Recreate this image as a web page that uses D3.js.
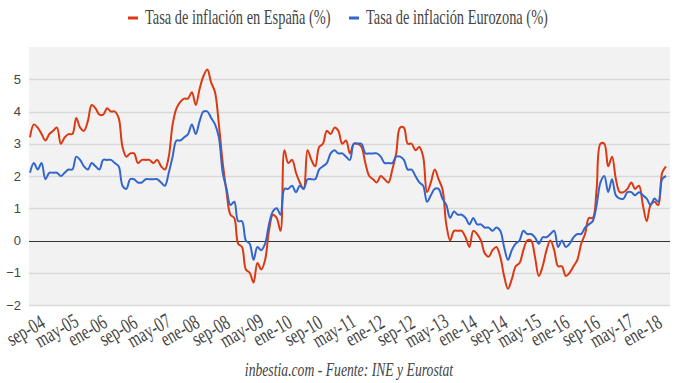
<!DOCTYPE html>
<html>
<head>
<meta charset="utf-8">
<script src="https://cdn.jsdelivr.net/npm/d3@7/dist/d3.min.js"></script>
<style>
  body { margin: 0; background: #fff; }
  .axis text { fill: #444; }
</style>
</head>
<body>
<script>
// Tasa de inflación (%) mensual, sep-2004 a jun-2018
var spain = [
  3.2, 3.6, 3.5, 3.3,
  3.1, 3.3, 3.4, 3.5, 3.0, 3.2, 3.3, 3.3, 3.8, 3.5, 3.4, 3.7,
  4.2, 4.1, 3.9, 3.9, 4.1, 4.0, 4.0, 3.8, 2.9, 2.6, 2.7, 2.7,
  2.4, 2.5, 2.5, 2.5, 2.4, 2.5, 2.3, 2.2, 2.6, 3.6, 4.1, 4.3,
  4.4, 4.4, 4.6, 4.2, 4.7, 5.1, 5.3, 4.9, 4.6, 3.6, 2.4, 1.5,
  0.8, 0.7, -0.1, -0.2, -0.9, -1.0, -1.3, -0.7, -0.9, -0.6, 0.3, 0.8,
  0.7, 0.3, 2.8, 2.4, 2.5, 2.1, 1.8, 1.6, 2.8, 2.5, 2.3, 2.9,
  3.0, 3.4, 3.3, 3.5, 3.4, 3.0, 3.1, 2.7, 3.0, 3.0, 2.9, 2.4,
  2.0, 1.9, 1.8, 2.0, 1.9, 1.8, 2.2, 2.7, 3.5, 3.5, 3.0, 3.0,
  2.8, 2.9, 2.6, 1.5, 1.8, 2.2, 1.9, 1.6, 0.5, 0.0, 0.3, 0.3,
  0.3, 0.1, -0.2, 0.3, 0.2, 0.0, -0.4, -0.5, -0.3, -0.2, -0.5, -1.1,
  -1.5, -1.2, -0.8, -0.7, -0.3, 0.0, 0.0, -0.5, -1.1, -0.8, -0.3, 0.0,
  -0.3, -0.8, -0.8, -1.1, -1.0, -0.8, -0.6, -0.1, 0.2, 0.7, 0.7, 1.6,
  3.0, 3.0, 2.3, 2.6, 1.9, 1.5, 1.5, 1.6, 1.8, 1.6, 1.7, 1.1,
  0.6, 1.1, 1.2, 1.1, 2.1, 2.3
];

var eurozone = [
  2.1, 2.4, 2.2, 2.4,
  1.9, 2.1, 2.1, 2.1, 2.0, 2.1, 2.2, 2.2, 2.6, 2.5, 2.3, 2.2,
  2.4, 2.3, 2.2, 2.5, 2.5, 2.5, 2.4, 2.3, 1.7, 1.6, 1.9, 1.9,
  1.8, 1.8, 1.9, 1.9, 1.9, 1.9, 1.8, 1.7, 2.1, 2.6, 3.1, 3.1,
  3.2, 3.3, 3.6, 3.3, 3.7, 4.0, 4.0, 3.8, 3.6, 3.2, 2.1, 1.6,
  1.1, 1.2, 0.6, 0.6, 0.0, -0.1, -0.6, -0.2, -0.3, -0.1, 0.5, 0.9,
  1.0, 0.8, 1.6, 1.6, 1.7, 1.5, 1.7, 1.6, 1.9, 1.9, 1.9, 2.2,
  2.3, 2.4, 2.7, 2.8, 2.7, 2.7, 2.6, 2.5, 3.0, 3.0, 3.0, 2.7,
  2.7, 2.7, 2.7, 2.6, 2.4, 2.4, 2.4, 2.6, 2.6, 2.5, 2.2, 2.2,
  2.0, 1.8, 1.7, 1.2, 1.4, 1.6, 1.6, 1.3, 1.1, 0.7, 0.9, 0.8,
  0.8, 0.7, 0.5, 0.7, 0.5, 0.5, 0.4, 0.4, 0.3, 0.4, 0.3, -0.2,
  -0.6, -0.3, -0.1, 0.0, 0.3, 0.2, 0.2, 0.1, -0.1, 0.1, 0.1, 0.2,
  0.3, -0.2, 0.0, -0.2, -0.1, 0.1, 0.2, 0.2, 0.4, 0.5, 0.6, 1.1,
  1.8, 2.0, 1.5, 1.9, 1.4, 1.3, 1.3, 1.5, 1.5, 1.4, 1.5, 1.4,
  1.3, 1.1, 1.3, 1.2, 1.9, 2.0
];

var monthNames = ['ene', 'feb', 'mar', 'abr', 'may', 'jun', 'jul', 'ago', 'sep', 'oct', 'nov', 'dic'];

// one category per month, starting at sep-04
var categories = spain.map(function(d, i) {
  var m = 8 + i;
  var yy = 4 + Math.floor(m / 12);
  return monthNames[m % 12] + '-' + (yy < 10 ? '0' : '') + yy;
});

var tickLabels = ['sep-04', 'may-05', 'ene-06', 'sep-06', 'may-07', 'ene-08', 'sep-08',
  'may-09', 'ene-10', 'sep-10', 'may-11', 'ene-12', 'sep-12', 'may-13', 'ene-14',
  'sep-14', 'may-15', 'ene-16', 'sep-16', 'may-17', 'ene-18'];

var yTicks = [-2, -1, 0, 1, 2, 3, 4, 5];

var seriesNames = ['Tasa de inflación en España (%)', 'Tasa de inflación Eurozona (%)'];
var seriesColors = ['#dc3912', '#3366cc'];

// the original uses a narrow serif face
var serif = '"Liberation Serif", "Times New Roman", serif';
var narrow = 0.72;

var fullWidth = 680;
var fullHeight = 383;
var margin = {top: 47, right: 10, bottom: 78, left: 29};
var width = fullWidth - margin.left - margin.right;
var height = fullHeight - margin.top - margin.bottom;

var svg = d3.select('body').append('svg')
  .attr('width', fullWidth)
  .attr('height', fullHeight);

var chart = svg.append('g')
  .attr('transform', 'translate(' + margin.left + ',' + margin.top + ')');

var xScale = d3.scalePoint()
  .domain(categories)
  .range([1, width - 4]);

var yScale = d3.scaleLinear()
  .domain([-2, 6])
  .range([height, 0]);

// panel
chart.append('rect')
  .attr('width', width)
  .attr('height', height)
  .style('fill', '#f2f2f2');

// gridlines
chart.append('g')
  .selectAll('line')
  .data(yTicks)
  .enter().append('line')
    .attr('x1', 0)
    .attr('x2', width)
    .attr('y1', function(d) { return Math.round(yScale(d)) + 0.5; })
    .attr('y2', function(d) { return Math.round(yScale(d)) + 0.5; })
    .style('stroke', function(d) { return d === 0 ? '#333' : '#d9d9d9'; })
    .style('stroke-width', function(d) { return d === 0 ? 1 : 1.5; });

// y axis labels
var yAxis = d3.axisLeft(yScale)
  .tickValues(yTicks)
  .tickSize(0)
  .tickPadding(8);

chart.append('g')
  .classed('y axis', true)
  .call(yAxis)
  .call(function(g) { g.select('.domain').remove(); })
  .selectAll('text')
    .style('font-family', '"Liberation Sans", Arial, sans-serif')
    .style('font-size', '13px');

// x axis labels
var xAxis = d3.axisBottom(xScale)
  .tickValues(tickLabels)
  .tickSize(0);

var xAxisEle = chart.append('g')
  .classed('x axis', true)
  .attr('transform', 'translate(0,' + height + ')')
  .call(xAxis);

xAxisEle.select('.domain').remove();

xAxisEle.selectAll('text')
  .attr('y', 0)
  .attr('dy', '0.25em')
  .attr('transform', 'translate(-4,27)rotate(-30)scale(' + narrow + ',1)')
  .style('text-anchor', 'middle')
  .style('font-family', serif)
  .style('font-size', '21px');

// lines
var line = d3.line()
  .x(function(d, i) { return xScale(categories[i]); })
  .y(function(d) { return yScale(d); })
  .curve(d3.curveCatmullRom.alpha(0.5));

[spain, eurozone].forEach(function(values, k) {
  chart.append('path')
    .datum(values)
    .attr('d', line)
    .style('fill', 'none')
    .style('stroke', seriesColors[k])
    .style('stroke-width', 2);
});

// legend
var legendX = [128, 349];
var legend = svg.append('g');

seriesNames.forEach(function(name, k) {
  legend.append('rect')
    .attr('x', legendX[k])
    .attr('y', 16.5)
    .attr('width', 10)
    .attr('height', 3)
    .style('fill', seriesColors[k]);
  legend.append('text')
    .attr('transform', 'translate(' + (legendX[k] + 17) + ',24)scale(' + narrow + ',1)')
    .style('font-family', serif)
    .style('font-size', '20px')
    .style('fill', '#444')
    .text(name);
});

// footer
svg.append('text')
  .attr('transform', 'translate(349,376)scale(' + narrow + ',1)')
  .style('text-anchor', 'middle')
  .style('font-family', serif)
  .style('font-style', 'italic')
  .style('font-size', '19px')
  .style('fill', '#444')
  .text('inbestia.com - Fuente: INE y Eurostat');
</script>
</body>
</html>
